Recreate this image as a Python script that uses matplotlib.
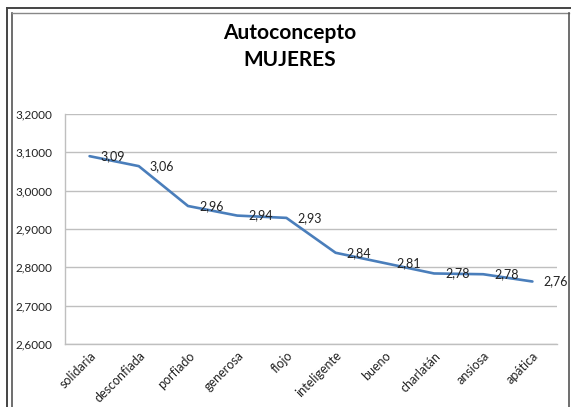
import matplotlib.pyplot as plt
from matplotlib.lines import Line2D
from matplotlib.ticker import FuncFormatter, MultipleLocator
import numpy as np

plt.rcParams['font.family'] = ['Lato', 'DejaVu Sans']

# Data
categories = ['solidaria', 'desconfiada', 'porfiado', 'generosa', 'flojo',
              'inteligente', 'bueno', 'charlatán', 'ansiosa', 'apática']
values = [3.090, 3.064, 2.960, 2.935, 2.929, 2.838, 2.811, 2.784, 2.782, 2.763]

fig = plt.figure(figsize=(5.71, 4.07), dpi=100)
ax = fig.add_axes([0.1138, 0.1548, 0.8617, 0.5651])

x = np.arange(len(categories))
ax.plot(x, values, color='#4a7ebb', linewidth=1.9, solid_capstyle='round', zorder=3)

# Data labels to the right of each point
for xi, v in zip(x, values):
    ax.annotate(f'{v:.2f}'.replace('.', ','), xy=(xi, v), xytext=(8, 0),
                textcoords='offset points', ha='left', va='center',
                fontsize=9, color='#222222', zorder=4)

ax.set_xlim(-0.5, len(categories) - 0.5)
ax.set_ylim(2.6, 3.2)
ax.yaxis.set_major_locator(MultipleLocator(0.1))
ax.yaxis.set_major_formatter(FuncFormatter(lambda v, p: f'{v:.4f}'.replace('.', ',')))

ax.set_xticks(x)
ax.set_xticklabels(categories, rotation=45, ha='right', rotation_mode='anchor', fontsize=9)
ax.tick_params(axis='y', length=0, labelsize=8.5, pad=9, colors='#222222')
ax.tick_params(axis='x', length=0, pad=4, colors='#222222')

ax.grid(axis='y', color='#bfbfbf', linewidth=1.0)
ax.set_axisbelow(True)
for side in ['top', 'right']:
    ax.spines[side].set_visible(False)
for side in ['left', 'bottom']:
    ax.spines[side].set_color('#bfbfbf')
    ax.spines[side].set_linewidth(1.0)

# Title
fig.text(0.508, 0.918, 'Autoconcepto', ha='center', va='center', fontsize=15, fontweight='bold')
fig.text(0.508, 0.852, 'MUJERES', ha='center', va='center', fontsize=15, fontweight='bold')

# Double frame lines (chart area border)
W, H = 571, 407
def fx(px): return px / W
def fy(py): return 1 - py / H
fig.add_artist(Line2D([fx(7), fx(7)], [0, fy(8)], color='#444444', linewidth=1.4))
fig.add_artist(Line2D([fx(7), 1], [fy(8), fy(8)], color='#444444', linewidth=1.4))
fig.add_artist(Line2D([fx(11.5), fx(11.5)], [0, fy(13)], color='#555555', linewidth=1.2))
fig.add_artist(Line2D([fx(11.5), fx(569)], [fy(13), fy(13)], color='#888888', linewidth=1.0))
fig.add_artist(Line2D([fx(569), fx(569)], [0, fy(13)], color='#555555', linewidth=1.2))

fig.savefig('out.png', dpi=100)
